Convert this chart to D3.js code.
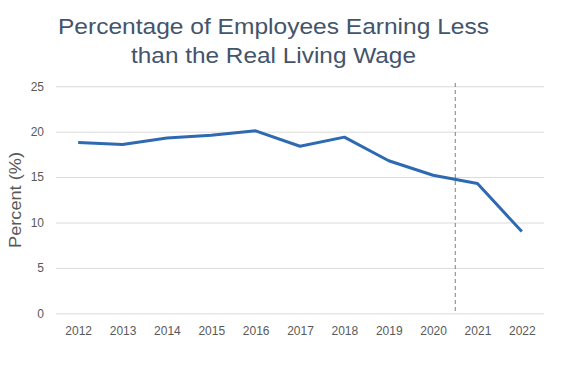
<!DOCTYPE html>
<html><head><meta charset="utf-8">
<script src="https://cdn.jsdelivr.net/npm/d3@7"></script>
<style>body{margin:0;background:#fff}svg{display:block}</style>
</head><body>
<script>
const years = ["2012","2013","2014","2015","2016","2017","2018","2019","2020","2021","2022"];
const percent = [18.8,18.6,19.3,19.6,20.1,18.4,19.4,16.8,15.2,14.3,9.0];
const yTicks = [0,5,10,15,20,25];
const titleLines = ["Percentage of Employees Earning Less","than the Real Living Wage"];
const titleWidths = [431,285];
const yLabel = "Percent (%)";
const markerBetween = ["2020","2021"];

const W=576,H=369;
const svg=d3.select("body").append("svg").attr("width",W).attr("height",H);
const x=d3.scalePoint().domain(years).range([56,544]).padding(0.5);
const y=d3.scaleLinear().domain([0,25]).range([313.3,86.3]);
const font="Liberation Sans, Arial, sans-serif";

svg.append("g").selectAll("text").data(titleLines).join("text")
  .attr("x",273.5).attr("y",(d,i)=>34.3+i*29).attr("text-anchor","middle")
  .attr("textLength",(d,i)=>titleWidths[i]).attr("lengthAdjust","spacingAndGlyphs")
  .attr("font-family",font).attr("font-size",22.5).attr("fill","#44546A").text(d=>d);

const yAxis=svg.append("g").attr("transform","translate(56,0)")
  .call(d3.axisLeft(y).tickValues(yTicks).tickSize(-488).tickPadding(12));
yAxis.select(".domain").remove();
yAxis.selectAll(".tick line").attr("stroke","#D9D9D9").attr("stroke-width",1);
yAxis.selectAll("text").attr("font-family",font).attr("font-size",12).attr("fill","#595959");

const xAxis=svg.append("g").attr("transform","translate(0,313.3)")
  .call(d3.axisBottom(x).tickSize(0).tickPadding(13));
xAxis.select(".domain").remove();
xAxis.selectAll("text").attr("font-family",font).attr("font-size",12).attr("fill","#595959");

const xm=(x(markerBetween[0])+x(markerBetween[1]))/2;
svg.append("line").attr("x1",xm).attr("x2",xm).attr("y1",83).attr("y2",y(0))
  .attr("stroke","#808080").attr("stroke-width",1).attr("stroke-dasharray","4,3");

svg.append("path").datum(years.map((d,i)=>[d,percent[i]]))
  .attr("fill","none").attr("stroke","#2E6AB1").attr("stroke-width",3)
  .attr("stroke-linejoin","round")
  .attr("d",d3.line().x(d=>x(d[0])).y(d=>y(d[1])));

svg.append("text").attr("transform","translate(21,200) rotate(-90)")
  .attr("text-anchor","middle").attr("font-family",font).attr("font-size",17)
  .attr("textLength",96).attr("lengthAdjust","spacingAndGlyphs")
  .attr("fill","#595959").text(yLabel);
</script>
</body></html>
